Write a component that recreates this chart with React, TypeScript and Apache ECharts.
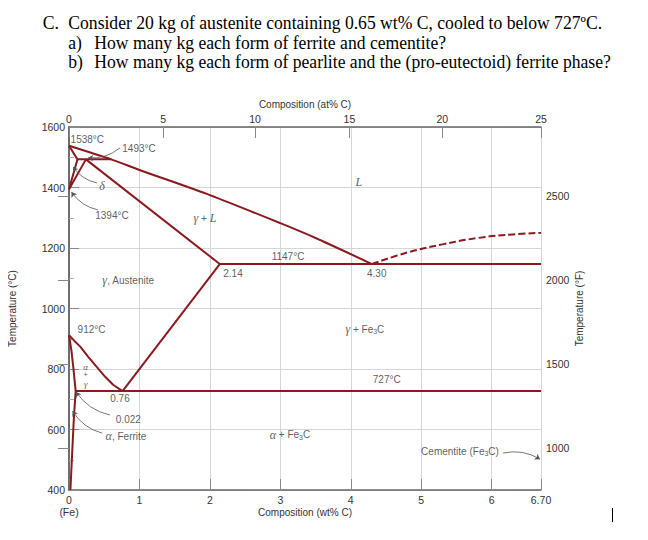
import { useEffect, useRef } from "react";
import * as echarts from "echarts";

// ---------- data (wt% C, °C) ----------
const atLabels = ["0", "5", "10", "15", "20", "25"];
const atPositions = [0, 1.335, 2.64, 3.98, 5.3, 6.7]; // wt% position of each at% tick
const fahrenheitTicks = [1000, 1500, 2000, 2500];

const liquidus = [[0, 1538], [0.6, 1493], [1, 1458], [2, 1375], [3, 1282], [3.5, 1233], [4.3, 1147]];
const deltaBoundary = [[0, 1538], [0.12, 1493], [0, 1394]];
const gammaDeltaBoundary = [[0, 1394], [0.24, 1493]];
const peritecticLine = [[0.12, 1493], [0.6, 1493]];
const solidus = [[0.24, 1493], [2.14, 1147]];
const eutecticLine = [[2.14, 1147], [6.7, 1147]];
const acmLine = [[2.14, 1147], [0.76, 727]];
const a3Line = [[0, 912], [0.08, 892], [0.16, 874], [0.27, 841], [0.39, 808], [0.51, 775], [0.63, 747], [0.76, 727]];
const ferriteSolvus = [[0, 912], [0.035, 860], [0.06, 808], [0.095, 727], [0.07, 642], [0.047, 532], [0.02, 400]];
const eutectoidLine = [[0.095, 727], [6.7, 727]];
const cementiteLiquidus = [[4.3, 1147], [4.8, 1185], [5.3, 1212], [5.8, 1233], [6.3, 1245], [6.7, 1250]];

const annotations = [
  { x: 0.26, t: 1559, text: "1538°C" },
  { x: 0.994, t: 1530, text: "1493°C" },
  { x: 0.468, t: 1405, text: "{g|δ}" },
  { x: 0.61, t: 1309, text: "1394°C" },
  { x: 1.93, t: 1299, text: "{g|γ} + {g|L}" },
  { x: 4.116, t: 1418, text: "{g|L}" },
  { x: 3.109, t: 1171, text: "1147°C" },
  { x: 2.328, t: 1117, text: "2.14" },
  { x: 4.368, t: 1116, text: "4.30" },
  { x: 0.842, t: 1094, text: "{g|γ}, Austenite" },
  { x: 0.32, t: 932, text: "912°C" },
  { x: 0.237, t: 808, text: "{s|α}" },
  { x: 0.237, t: 781, text: "{p|+}" },
  { x: 0.237, t: 752, text: "{s|γ}" },
  { x: 0.724, t: 703, text: "0.76" },
  { x: 0.842, t: 634, text: "0.022" },
  { x: 0.809, t: 578, text: "{g|α}, Ferrite" },
  { x: 4.2, t: 932, text: "{g|γ} + Fe{sub|3}C" },
  { x: 4.51, t: 766, text: "727°C" },
  { x: 3.137, t: 582, text: "{g|α} + Fe{sub|3}C" },
  { x: 5.55, t: 527, text: "Cementite (Fe{sub|3}C)" },
];

const arrows = [
  { from: [0.724, 1531], to: [0.27, 1498] },
  { from: [0.397, 1415], to: [0.057, 1468] },
  { from: [0.41, 1326], to: [0.035, 1385] },
  { from: [0.58, 648], to: [0.1, 724] },
  { from: [0.47, 588], to: [0.05, 661] },
  { from: [6.16, 522], to: [6.686, 502] },
];

const titleLines = [
  { lead: "C.", text: "Consider 20 kg of austenite containing 0.65 wt% C, cooled to below 727ºC." },
  { lead: "a)", text: "How many kg each form of ferrite and cementite?" },
  { lead: "b)", text: "How many kg each form of pearlite and the (pro-eutectoid) ferrite phase?" },
];

const RED = "#8b1a1f";
const SANS = "'Liberation Sans', Arial, sans-serif";
const SERIF = "'Liberation Serif', 'Times New Roman', serif";

export default function App() {
  const ref = useRef<HTMLDivElement>(null);

  useEffect(() => {
    if (!ref.current) return;
    const chart = echarts.init(ref.current, undefined, { renderer: "svg" });

    const lineSeries = (data: number[][], smooth: number | boolean = false, dashed = false) => ({
      type: "line",
      data,
      xAxisIndex: 0,
      yAxisIndex: 0,
      showSymbol: false,
      symbol: "none",
      smooth,
      lineStyle: { color: RED, width: 2, type: dashed ? [7, 3] : "solid" },
      silent: true,
      z: 3,
    });

    const textRich = {
      g: { fontFamily: SERIF, fontStyle: "italic", fontSize: 12, color: "#333" },
      s: { fontFamily: SERIF, fontStyle: "italic", fontSize: 9, color: "#333" },
      p: { fontFamily: SANS, fontSize: 8, color: "#333" },
      sub: { fontSize: 7, color: "#333", verticalAlign: "bottom", padding: [4, 0, 0, 0] },
    };

    const intLabel = (v: number) => String(v);

    const titleY = [23.1, 43.1, 62.1];
    const titleFont = `18.5px ${SERIF}`;
    const titleScale = 0.952;

    chart.setOption({
      animation: false,
      textStyle: { fontFamily: SANS },
      grid: { left: 69, right: 107, top: 127, bottom: 50, outerBoundsMode: "none" },
      xAxis: [
        {
          type: "value",
          position: "bottom",
          min: 0,
          max: 6.7,
          interval: 1,
          name: "Composition (wt% C)",
          nameLocation: "middle",
          nameGap: 17,
          nameMoveOverlap: false,
          nameTextStyle: { fontSize: 10, color: "#333", fontFamily: SANS },
          axisLine: { show: true, lineStyle: { color: "#666", width: 1.5 } },
          axisTick: { show: true, inside: true, length: 11, lineStyle: { color: "#888" } },
          axisLabel: {
            margin: 4,
            fontSize: 10.5,
            color: "#333",
            lineHeight: 12,
            formatter: (v: number) => (v === 0 ? "0\n(Fe)" : Math.abs(v - 6.7) < 1e-6 ? "6.70" : String(v)),
          },
          splitLine: { show: true, lineStyle: { color: "#d6d6d6", width: 1 } },
        },
        {
          type: "value",
          position: "top",
          min: 0,
          max: 6.7,
          name: "Composition (at% C)",
          nameLocation: "middle",
          nameGap: 18,
          nameMoveOverlap: false,
          nameTextStyle: { fontSize: 10, color: "#333", fontFamily: SANS },
          axisLine: { show: true, lineStyle: { color: "#666", width: 1.5 } },
          axisTick: { show: true, inside: true, length: 11, customValues: atPositions, lineStyle: { color: "#888" } },
          axisLabel: {
            margin: 3,
            fontSize: 10.5,
            color: "#333",
            customValues: atPositions,
            formatter: (v: number) => {
              const i = atPositions.findIndex((p) => Math.abs(p - v) < 1e-6);
              return i >= 0 ? atLabels[i] : "";
            },
          },
          splitLine: { show: false },
        },
      ],
      yAxis: [
        {
          type: "value",
          position: "left",
          min: 400,
          max: 1600,
          interval: 200,
          name: "Temperature (°C)",
          nameLocation: "middle",
          nameGap: 52,
          nameRotate: 90,
          nameMoveOverlap: false,
          nameTextStyle: { fontSize: 10, color: "#333", fontFamily: SANS },
          axisLine: { show: true, lineStyle: { color: "#666", width: 1.5 } },
          axisTick: { show: true, inside: true, length: 10, lineStyle: { color: "#888" } },
          minorTick: { show: true, splitNumber: 2, length: 5, lineStyle: { color: "#aaa" } },
          axisLabel: { margin: 4, fontSize: 10.5, color: "#333", formatter: intLabel },
          splitLine: { show: true, lineStyle: { color: "#d6d6d6", width: 1 } },
        },
        {
          type: "value",
          position: "right",
          min: 752,
          max: 2912,
          name: "Temperature (°F)",
          nameLocation: "middle",
          nameGap: 33,
          nameRotate: 90,
          nameMoveOverlap: false,
          nameTextStyle: { fontSize: 10, color: "#333", fontFamily: SANS },
          axisLine: { show: true, lineStyle: { color: "#666", width: 1.5 } },
          axisTick: { show: true, inside: true, length: 11, customValues: fahrenheitTicks, lineStyle: { color: "#888" } },
          axisLabel: { margin: 5, fontSize: 10.5, color: "#333", customValues: fahrenheitTicks, formatter: intLabel },
          splitLine: { show: false },
        },
      ],
      series: [
        lineSeries(liquidus, 0.25),
        lineSeries(deltaBoundary),
        lineSeries(gammaDeltaBoundary),
        lineSeries(peritecticLine),
        lineSeries(solidus),
        lineSeries(eutecticLine),
        lineSeries(acmLine),
        lineSeries(a3Line),
        lineSeries(ferriteSolvus),
        lineSeries(eutectoidLine),
        lineSeries(cementiteLiquidus, 0.4, true),
        {
          type: "lines",
          coordinateSystem: "cartesian2d",
          xAxisIndex: 0,
          yAxisIndex: 0,
          symbol: ["none", "arrow"],
          symbolSize: 5,
          silent: true,
          lineStyle: { color: "#555", width: 0.8, curveness: 0.2, opacity: 1 },
          data: arrows.map((a) => ({ coords: [a.from, a.to] })),
          z: 4,
        },
        {
          type: "scatter",
          xAxisIndex: 0,
          yAxisIndex: 0,
          symbolSize: 0,
          silent: true,
          data: annotations.map((a) => ({ value: [a.x, a.t], text: a.text })),
          label: {
            show: true,
            position: "inside",
            align: "center",
            verticalAlign: "middle",
            fontSize: 10,
            color: "#333",
            fontFamily: SANS,
            formatter: (p: any) => p.data.text,
            rich: textRich,
          },
          z: 5,
        },
      ],
      graphic: [
        ...titleLines.flatMap((l, i) => [
          {
            type: "text",
            x: i === 0 ? 42.7 : 68.3,
            y: titleY[i],
            scaleX: titleScale,
            style: { text: l.lead, font: titleFont, fill: "#000", verticalAlign: "middle" },
          },
          {
            type: "text",
            x: i === 0 ? 68.3 : 94.3,
            y: titleY[i],
            scaleX: titleScale,
            style: { text: l.text, font: titleFont, fill: "#000", verticalAlign: "middle" },
          },
        ]),
        {
          type: "line",
          shape: { x1: 612.5, y1: 508, x2: 612.5, y2: 522 },
          style: { stroke: "#000", lineWidth: 1 },
        },
      ],
    });

    return () => chart.dispose();
  }, []);

  return <div ref={ref} style={{ width: 648, height: 540, margin: -8 }} />;
}
